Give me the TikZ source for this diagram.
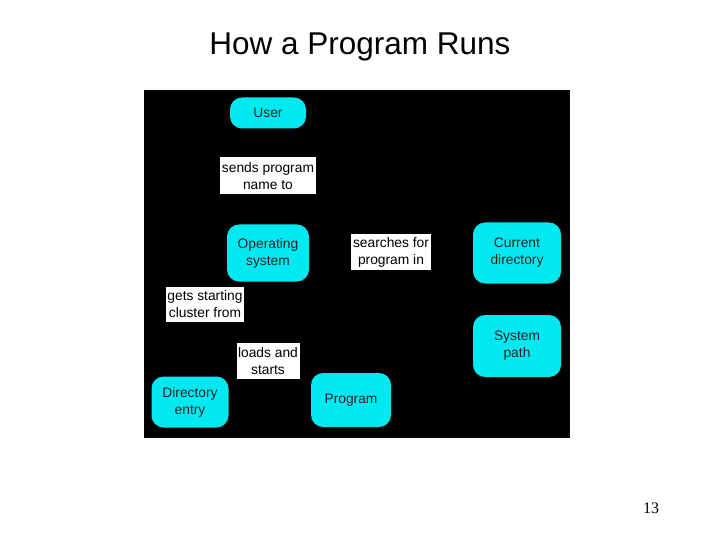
\documentclass[tikz,border=0pt]{standalone}
\usepackage{fontspec}
\setmainfont{Liberation Sans}
\newfontfamily\serifnum{Liberation Serif}
\definecolor{boxcyan}{RGB}{0,232,240}
\begin{document}
\begin{tikzpicture}[x=1pt,y=-1pt,
  thing/.style={fill=boxcyan,draw=none,rounded corners=12pt,align=center,font=\fontsize{13.8}{17}\selectfont,text=black!85,inner sep=0pt},
  lbl/.style={fill=white,draw=none,align=center,font=\fontsize{13.8}{17}\selectfont,text=black,inner sep=0pt}]
\useasboundingbox (0,0) rectangle (720,540);
\fill[white] (0,0) rectangle (720,540);
\node[font=\fontsize{31.5}{36}\selectfont] (title) at (360,47) {How a Program Runs};
\fill[black] (144,90) rectangle (570,438);
\node[thing,minimum width=76pt,minimum height=31pt] (user) at (268,113) {User};
\node[thing,minimum width=82pt,minimum height=57pt] (os) at (268,253) {Operating\\system};
\node[thing,minimum width=88pt,minimum height=61pt] (cur) at (517,253) {Current\\directory};
\node[thing,minimum width=88pt,minimum height=62pt] (path) at (517,346) {System\\path};
\node[thing,minimum width=77pt,minimum height=51pt] (dir) at (190,402) {Directory\\entry};
\node[thing,minimum width=80pt,minimum height=54pt] (prog) at (351,400) {Program};
\node[lbl,minimum width=96pt,minimum height=37pt] (l1) at (268,176) {sends program\\name to};
\node[lbl,minimum width=80pt,minimum height=36pt] (l2) at (391,252) {searches for\\program in};
\node[lbl,minimum width=78pt,minimum height=35pt] (l3) at (205,304) {gets starting\\cluster from};
\node[lbl,minimum width=63pt,minimum height=36pt] (l4) at (268,361) {loads and\\starts};
\node[font=\serifnum\fontsize{16}{18}\selectfont] (num) at (651,508) {13};
\end{tikzpicture}
\end{document}
